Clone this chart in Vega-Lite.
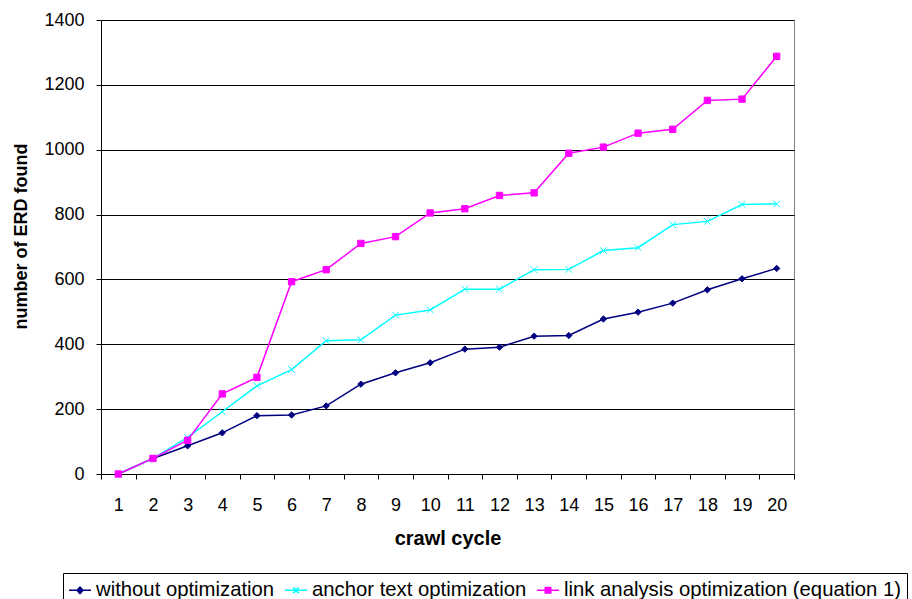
{
  "$schema": "https://vega.github.io/schema/vega-lite/v6.json",
  "width": 693,
  "height": 454,
  "autosize": {"type": "none"},
  "padding": {"left": 101, "top": 20, "right": 118, "bottom": 125},
  "background": "white",
  "config": {"view": {"stroke": "#808080", "strokeWidth": 1}, "font": "Liberation Sans"},
  "data": {"values": [
    {"cycle": 1, "series": "without optimization", "count": 0},
    {"cycle": 2, "series": "without optimization", "count": 48},
    {"cycle": 3, "series": "without optimization", "count": 87},
    {"cycle": 4, "series": "without optimization", "count": 127},
    {"cycle": 5, "series": "without optimization", "count": 180},
    {"cycle": 6, "series": "without optimization", "count": 182},
    {"cycle": 7, "series": "without optimization", "count": 210},
    {"cycle": 8, "series": "without optimization", "count": 277},
    {"cycle": 9, "series": "without optimization", "count": 312},
    {"cycle": 10, "series": "without optimization", "count": 343},
    {"cycle": 11, "series": "without optimization", "count": 385},
    {"cycle": 12, "series": "without optimization", "count": 391},
    {"cycle": 13, "series": "without optimization", "count": 425},
    {"cycle": 14, "series": "without optimization", "count": 427},
    {"cycle": 15, "series": "without optimization", "count": 478},
    {"cycle": 16, "series": "without optimization", "count": 499},
    {"cycle": 17, "series": "without optimization", "count": 527},
    {"cycle": 18, "series": "without optimization", "count": 568},
    {"cycle": 19, "series": "without optimization", "count": 602},
    {"cycle": 20, "series": "without optimization", "count": 634},
    {"cycle": 1, "series": "anchor text optimization", "count": 0},
    {"cycle": 2, "series": "anchor text optimization", "count": 48},
    {"cycle": 3, "series": "anchor text optimization", "count": 113},
    {"cycle": 4, "series": "anchor text optimization", "count": 192},
    {"cycle": 5, "series": "anchor text optimization", "count": 272},
    {"cycle": 6, "series": "anchor text optimization", "count": 322},
    {"cycle": 7, "series": "anchor text optimization", "count": 411},
    {"cycle": 8, "series": "anchor text optimization", "count": 414},
    {"cycle": 9, "series": "anchor text optimization", "count": 490},
    {"cycle": 10, "series": "anchor text optimization", "count": 506},
    {"cycle": 11, "series": "anchor text optimization", "count": 570},
    {"cycle": 12, "series": "anchor text optimization", "count": 570},
    {"cycle": 13, "series": "anchor text optimization", "count": 630},
    {"cycle": 14, "series": "anchor text optimization", "count": 631},
    {"cycle": 15, "series": "anchor text optimization", "count": 689},
    {"cycle": 16, "series": "anchor text optimization", "count": 698},
    {"cycle": 17, "series": "anchor text optimization", "count": 769},
    {"cycle": 18, "series": "anchor text optimization", "count": 779},
    {"cycle": 19, "series": "anchor text optimization", "count": 831},
    {"cycle": 20, "series": "anchor text optimization", "count": 833},
    {"cycle": 1, "series": "link analysis optimization (equation 1)", "count": 0},
    {"cycle": 2, "series": "link analysis optimization (equation 1)", "count": 48},
    {"cycle": 3, "series": "link analysis optimization (equation 1)", "count": 104},
    {"cycle": 4, "series": "link analysis optimization (equation 1)", "count": 247},
    {"cycle": 5, "series": "link analysis optimization (equation 1)", "count": 298},
    {"cycle": 6, "series": "link analysis optimization (equation 1)", "count": 593},
    {"cycle": 7, "series": "link analysis optimization (equation 1)", "count": 630},
    {"cycle": 8, "series": "link analysis optimization (equation 1)", "count": 711},
    {"cycle": 9, "series": "link analysis optimization (equation 1)", "count": 732},
    {"cycle": 10, "series": "link analysis optimization (equation 1)", "count": 805},
    {"cycle": 11, "series": "link analysis optimization (equation 1)", "count": 818},
    {"cycle": 12, "series": "link analysis optimization (equation 1)", "count": 859},
    {"cycle": 13, "series": "link analysis optimization (equation 1)", "count": 867},
    {"cycle": 14, "series": "link analysis optimization (equation 1)", "count": 989},
    {"cycle": 15, "series": "link analysis optimization (equation 1)", "count": 1008},
    {"cycle": 16, "series": "link analysis optimization (equation 1)", "count": 1051},
    {"cycle": 17, "series": "link analysis optimization (equation 1)", "count": 1063},
    {"cycle": 18, "series": "link analysis optimization (equation 1)", "count": 1152},
    {"cycle": 19, "series": "link analysis optimization (equation 1)", "count": 1156},
    {"cycle": 20, "series": "link analysis optimization (equation 1)", "count": 1288}
  ]},
  "encoding": {
    "x": {
      "field": "cycle", "type": "quantitative",
      "scale": {"domain": [0.5, 20.5], "nice": false, "zero": false},
      "axis": {
        "values": [0.5, 1.5, 2.5, 3.5, 4.5, 5.5, 6.5, 7.5, 8.5, 9.5, 10.5, 11.5, 12.5, 13.5, 14.5, 15.5, 16.5, 17.5, 18.5, 19.5, 20.5],
        "labelExpr": "datum.value < 20 ? format(datum.value + 0.5, 'd') : ''",
        "labelOffset": 17.33,
        "labelFont": "Liberation Sans", "labelFontSize": 18, "labelColor": "black",
        "labelPadding": 17, "labelFlush": false, "labelOverlap": false, "labelBound": false,
        "tickSize": 5, "tickColor": "black", "tickWidth": 1,
        "domainColor": "black", "domainWidth": 1, "grid": false,
        "title": "crawl cycle", "titleFont": "Liberation Sans", "titleFontSize": 20, "titleFontWeight": "bold", "titleColor": "black", "titlePadding": 14
      }
    },
    "y": {
      "field": "count", "type": "quantitative",
      "scale": {"domain": [0, 1400], "nice": false},
      "axis": {
        "values": [0, 200, 400, 600, 800, 1000, 1200, 1400],
        "format": "d",
        "labelFont": "Liberation Sans", "labelFontSize": 18, "labelColor": "black",
        "labelPadding": 12, "labelFlush": false, "labelOverlap": false, "labelBound": false,
        "tickSize": 5, "tickColor": "black", "tickWidth": 1,
        "domainColor": "black", "domainWidth": 1,
        "grid": true, "gridColor": "black", "gridOpacity": 1, "gridWidth": 1,
        "title": "number of ERD found", "titleFont": "Liberation Sans", "titleFontSize": 18, "titleFontWeight": "bold", "titleColor": "black", "titlePadding": 13, "titleY": 216
      }
    }
  },
  "layer": [
    {
      "mark": {"type": "line", "strokeWidth": 1.5},
      "encoding": {
        "color": {
          "field": "series", "type": "nominal",
          "scale": {"domain": ["without optimization", "anchor text optimization", "link analysis optimization (equation 1)"], "range": ["#000080", "#00FFFF", "#FF00FF"]},
          "legend": {
            "orient": "none", "legendX": -38, "legendY": 553, "direction": "horizontal",
            "title": null, "symbolSize": 484, "symbolStrokeWidth": 1.5, "symbolOpacity": 1,
            "labelFont": "Liberation Sans", "labelFontSize": 20.3, "labelColor": "black", "labelOffset": 4, "labelLimit": 1000,
            "columnPadding": 7, "padding": 5, "strokeColor": "black", "fillColor": "white"
          }
        }
      }
    },
    {
      "transform": [{"filter": "false"}],
      "mark": {"type": "point", "filled": true, "opacity": 1, "strokeWidth": 1.5},
      "encoding": {
        "color": {
          "field": "series", "type": "nominal",
          "scale": {"domain": ["without optimization", "anchor text optimization", "link analysis optimization (equation 1)"], "range": ["#000080", "#00FFFF", "#FF00FF"]}
        },
        "shape": {
          "field": "series", "type": "nominal",
          "scale": {"domain": ["without optimization", "anchor text optimization", "link analysis optimization (equation 1)"], "range": ["M-1,0H1M-0.27,0L0,-0.3L0.27,0L0,0.3Z", "M-1,0H1M-0.25,-0.25L0.25,0.25M-0.25,0.25L0.25,-0.25", "M-1,0H1M-0.25,-0.25H0.25V0.25H-0.25Z"]}
        }
      }
    },
    {
      "transform": [{"filter": "datum.series === 'without optimization'"}],
      "mark": {"type": "point", "shape": "diamond", "filled": true, "color": "#000080", "stroke": "#000080", "strokeWidth": 1, "size": 40, "opacity": 1}
    },
    {
      "transform": [{"filter": "datum.series === 'anchor text optimization'"}],
      "mark": {"type": "point", "shape": "M-1,-1L1,1M-1,1L1,-1", "filled": false, "color": "#00FFFF", "strokeWidth": 1, "size": 45, "opacity": 1}
    },
    {
      "transform": [{"filter": "datum.series === 'link analysis optimization (equation 1)'"}],
      "mark": {"type": "point", "shape": "square", "filled": true, "color": "#FF00FF", "stroke": "#FF00FF", "strokeWidth": 1, "size": 40, "opacity": 1}
    }
  ]
}
